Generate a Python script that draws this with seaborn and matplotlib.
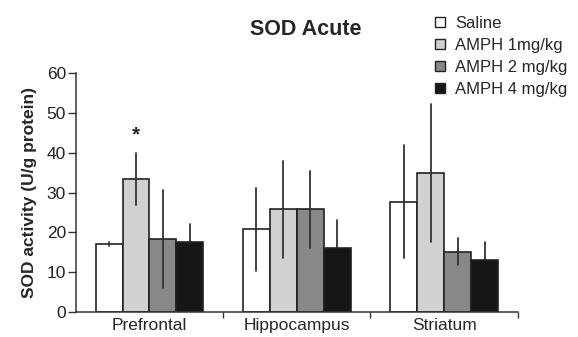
import numpy as np
import pandas as pd
import seaborn as sns
import matplotlib.pyplot as plt
from matplotlib.lines import Line2D

# datos
regions = ['Prefrontal', 'Hippocampus', 'Striatum']
groups = ['Saline', 'AMPH 1mg/kg', 'AMPH 2 mg/kg', 'AMPH 4 mg/kg']
saline = [17.0, 20.8, 27.7]
amph1 = [33.4, 25.8, 34.9]
amph2 = [18.4, 25.8, 15.2]
amph4 = [17.5, 16.0, 13.1]
err_saline = [0.5, 10.4, 14.2]
err_amph1 = [6.6, 12.1, 17.4]
err_amph2 = [12.3, 9.6, 3.4]
err_amph4 = [4.6, 7.0, 4.4]
colors = ['#ffffff', '#d0d1d3', '#888888', '#161616']

sns.set_style('ticks')
plt.rcParams['font.family'] = ['Liberation Sans', 'DejaVu Sans']

rows = []
for g, vals, errs in zip(groups, [saline, amph1, amph2, amph4],
                         [err_saline, err_amph1, err_amph2, err_amph4]):
    for r, v, e in zip(regions, vals, errs):
        rows.append({'region': r, 'group': g, 'value': v, 'err': e})
df = pd.DataFrame(rows)

fig = plt.figure(figsize=(5.78, 3.37), dpi=100)
ax = fig.add_axes([0.131, 0.074, 0.765, 0.709])

sns.barplot(data=df, x='region', y='value', hue='group', order=regions,
            hue_order=groups, palette=colors, errorbar=None, width=0.73,
            edgecolor='#222222', linewidth=1.2, saturation=1, ax=ax,
            legend=False)

# barras de error
for bars, g in zip(ax.containers, groups):
    sub = df[df['group'] == g].set_index('region').loc[regions]
    for patch, v, e in zip(bars, sub['value'], sub['err']):
        xc = patch.get_x() + patch.get_width() / 2
        ax.plot([xc, xc], [v - e, v + e], color='#333333', lw=1.3,
                zorder=patch.get_zorder() + 0.5 if g != 'AMPH 4 mg/kg' else patch.get_zorder() - 0.5)

# asterisco
p = ax.containers[1][0]
ax.text(p.get_x() + p.get_width() / 2, 42, '*', ha='center', va='bottom',
        fontsize=15, fontweight='bold')

ax.set_xlim(-0.5, 2.5)
ax.set_ylim(0, 60)
ax.set_yticks(range(0, 61, 10))
ax.set_xticks(range(3))
ax.set_xticklabels(regions)
ax.set_xticks([0.5, 1.5, 2.5], minor=True)
ax.tick_params(axis='x', which='major', length=0, labelsize=12.5, pad=4)
ax.tick_params(axis='x', which='minor', length=4, width=1, color='#333333')
ax.tick_params(axis='y', length=6, width=1, labelsize=12.5, color='#333333',
               labelcolor='#222222', pad=1)
ax.set_xlabel('')
ax.set_ylabel('SOD activity (U/g protein)', fontsize=12.5, fontweight='bold')
ax.yaxis.set_label_coords(-0.088, 0.5)
sns.despine(ax=ax)
for s in ['left', 'bottom']:
    ax.spines[s].set_linewidth(1.1)
    ax.spines[s].set_color('#333333')

fig.text(0.529, 0.913, 'SOD Acute', ha='center', va='center',
         fontsize=15.5, fontweight='bold')

handles = [Line2D([], [], marker='s', linestyle='', markersize=7,
                  markerfacecolor=c, markeredgecolor='#222222',
                  markeredgewidth=1) for c in colors]
fig.legend(handles, groups, loc='upper left', bbox_to_anchor=(0.728, 0.99),
           frameon=False, fontsize=12, handlelength=0.8, handletextpad=0.5,
           labelspacing=0.42, borderpad=0.25)

fig.savefig('out.png', dpi=100)
